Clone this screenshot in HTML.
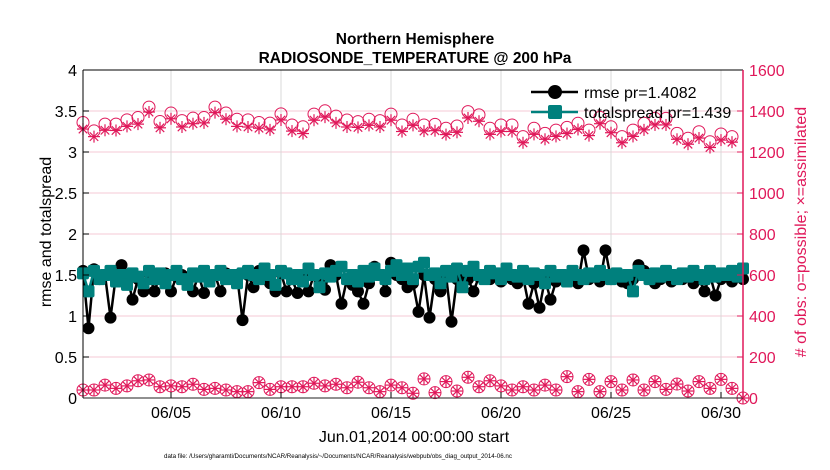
<!DOCTYPE html>
<html><head><meta charset="utf-8"><style>
body{margin:0;background:#fff;}
svg{display:block;font-family:"Liberation Sans",sans-serif;}
</style></head><body>
<svg id="chart" width="830" height="470" viewBox="0 0 830 470" xmlns="http://www.w3.org/2000/svg">
<rect width="830" height="470" fill="#fff"/>
<g id="grid"></g>
<g id="series"></g>
<g id="axes"></g>
<text x="415" y="44" text-anchor="middle" font-size="15.5" font-weight="bold">Northern Hemisphere</text>
<text x="415" y="63" text-anchor="middle" font-size="15.5" font-weight="bold">RADIOSONDE_TEMPERATURE @ 200 hPa</text>
<text transform="translate(51,232) rotate(-90)" text-anchor="middle" font-size="16">rmse and totalspread</text>
<text transform="translate(806,232) rotate(-90)" text-anchor="middle" font-size="16" fill="#e0185a"># of obs: o=possible; ×=assimilated</text>
<text x="414" y="442" text-anchor="middle" font-size="16">Jun.01,2014 00:00:00 start</text>
<text x="338" y="458" text-anchor="middle" font-size="6.2">data file: /Users/gharamti/Documents/NCAR/Reanalysis/~/Documents/NCAR/Reanalysis/webpub/obs_diag_output_2014-06.nc</text>
<g id="legend"></g>
</svg>
<script>
const leftTicks=[0,0.5,1,1.5,2,2.5,3,3.5,4];
const leftTickLabels=["0","0.5","1","1.5","2","2.5","3","3.5","4"];
const rightTicks=[0,200,400,600,800,1000,1200,1400,1600];
const dateTicks=[4,9,14,19,24,29];
const dateTickLabels=["06/05","06/10","06/15","06/20","06/25","06/30"];
const possibleUpper=[1344,1303,1336,1336,1357,1368,1419,1349,1390,1353,1365,1368,1419,1390,1360,1357,1344,1341,1386,1332,1323,1385,1401,1375,1356,1348,1360,1353,1385,1332,1360,1332,1335,1316,1327,1397,1381,1316,1332,1332,1275,1316,1291,1307,1320,1340,1307,1369,1323,1275,1307,1340,1364,1364,1291,1267,1299,1250,1288,1275];
const assimUpper=[1312,1275,1306,1305,1325,1336,1395,1318,1362,1322,1338,1342,1392,1360,1325,1322,1316,1308,1356,1302,1290,1355,1370,1342,1322,1320,1330,1322,1355,1300,1330,1302,1304,1285,1296,1366,1350,1286,1300,1300,1245,1286,1262,1276,1290,1310,1280,1338,1294,1245,1276,1308,1332,1332,1262,1238,1268,1222,1258,1248];
const possibleLower=[39,39,63,47,59,84,88,55,59,55,67,42,47,39,31,31,75,42,55,55,55,72,59,67,50,77,50,31,63,50,23,93,26,80,34,101,55,84,59,39,55,39,63,39,104,31,91,31,80,39,88,39,80,42,68,34,80,47,91,47,0];
const assimLower=[39,39,63,47,59,84,88,55,59,55,67,42,47,39,31,31,75,42,55,55,55,72,59,67,50,77,50,31,63,50,23,93,26,80,34,101,55,84,59,39,55,39,63,39,104,31,91,31,80,39,88,39,80,42,68,34,80,47,91,47,0];
const rmse=[1.55,0.85,1.57,1.45,1.5,0.98,1.5,1.62,1.5,1.2,1.45,1.3,1.52,1.3,1.5,1.52,1.3,1.48,1.5,1.45,1.3,1.5,1.28,1.48,1.5,1.3,1.52,1.45,1.5,0.95,1.5,1.35,1.55,1.5,1.4,1.3,1.52,1.3,1.45,1.28,1.5,1.3,1.5,1.4,1.32,1.62,1.5,1.15,1.45,1.38,1.3,1.15,1.4,1.6,1.5,1.3,1.65,1.5,1.45,1.35,1.4,1.05,1.5,0.98,1.45,1.3,1.5,0.93,1.45,1.5,1.45,1.3,1.48,1.5,1.45,1.5,1.42,1.5,1.45,1.4,1.48,1.15,1.4,1.1,1.45,1.2,1.42,1.5,1.45,1.48,1.4,1.8,1.45,1.5,1.42,1.8,1.45,1.48,1.42,1.4,1.45,1.62,1.55,1.48,1.4,1.45,1.5,1.42,1.48,1.45,1.5,1.4,1.45,1.3,1.5,1.25,1.45,1.5,1.42,1.48,1.45];
const spread=[1.52,1.3,1.55,1.45,1.5,1.55,1.42,1.5,1.38,1.52,1.48,1.4,1.55,1.45,1.52,1.4,1.5,1.55,1.45,1.38,1.52,1.48,1.55,1.42,1.5,1.55,1.45,1.5,1.4,1.52,1.55,1.5,1.45,1.58,1.5,1.38,1.55,1.52,1.45,1.5,1.42,1.58,1.5,1.35,1.52,1.48,1.55,1.6,1.45,1.5,1.42,1.55,1.48,1.58,1.5,1.45,1.55,1.62,1.5,1.58,1.45,1.6,1.65,1.5,1.52,1.4,1.55,1.48,1.58,1.35,1.55,1.6,1.5,1.45,1.55,1.52,1.45,1.58,1.5,1.48,1.55,1.45,1.52,1.5,1.4,1.55,1.48,1.5,1.42,1.55,1.5,1.45,1.52,1.48,1.55,1.5,1.45,1.52,1.48,1.5,1.3,1.55,1.5,1.45,1.52,1.48,1.55,1.5,1.45,1.52,1.48,1.55,1.5,1.45,1.55,1.48,1.52,1.5,1.55,1.48,1.58];

const NS="http://www.w3.org/2000/svg";
const X0=83,X1=743,Y0=70,Y1=398,PINK="#e0185a",TEAL="#00807d";
const xDay=d=>X0+(X1-X0)*d/30;
const yL=v=>Y1-(Y1-Y0)*v/4;
const yR=v=>Y1-(Y1-Y0)*v/1600;
function mk(tag,attrs,parent){const e=document.createElementNS(NS,tag);for(const k in attrs)e.setAttribute(k,attrs[k]);parent.appendChild(e);return e;}
const grid=document.getElementById('grid'),axes=document.getElementById('axes'),ser=document.getElementById('series');

leftTicks.forEach((t,i)=>{
  const y=yL(t);
  if(i>0&&i<leftTicks.length-1){const g=mk('line',{x1:X0,x2:X1,y1:y,y2:y,stroke:'#f4c8d6','stroke-width':1},grid);
  
  }
  const tl=mk('text',{x:X0-6,y:y+6,'text-anchor':'end','font-size':16},axes);tl.textContent=leftTickLabels[i];
  
  
  mk('line',{x1:X0,x2:X0+6,y1:y,y2:y,stroke:'#000'},axes);
});
rightTicks.forEach(t=>{
  const y=yR(t);
  mk('line',{x1:X1-6,x2:X1,y1:y,y2:y,stroke:PINK},axes);
  const tl=mk('text',{x:X1+6,y:y+6,'font-size':16,fill:PINK},axes);tl.textContent=String(t);
  
  
});
dateTicks.forEach((d,i)=>{
  const x=xDay(d);
  const g=mk('line',{x1:x,x2:x,y1:Y0,y2:Y1,stroke:'#d8d8d8'},grid);
  
  
  mk('line',{x1:x,x2:x,y1:Y1,y2:Y1-6,stroke:'#000'},axes);
  const tl=mk('text',{x:x,y:Y1+20,'text-anchor':'middle','font-size':16},axes);tl.textContent=dateTickLabels[i];
  
  
});
mk('line',{x1:X0,x2:X1,y1:Y0,y2:Y0,stroke:'#000'},axes);
mk('line',{x1:X0,x2:X1,y1:Y1,y2:Y1,stroke:'#222'},axes);
mk('line',{x1:X0,x2:X0,y1:Y0,y2:Y1,stroke:'#000'},axes);
mk('line',{x1:X1,x2:X1,y1:Y0,y2:Y1,stroke:PINK,'stroke-width':1.5},axes);

function star(g,x,y,r){
  for(let a=0;a<4;a++){const an=a*Math.PI/4;mk('line',{x1:x-r*Math.cos(an),y1:y-r*Math.sin(an),x2:x+r*Math.cos(an),y2:y+r*Math.sin(an),stroke:PINK,'stroke-width':1.2},g);}
}
function pinkSet(poss,assim,name){
  const g=mk('g',{},ser);
  
  
  poss.forEach((v,i)=>{mk('circle',{cx:xDay(i/2),cy:yR(v),r:6,fill:'none',stroke:PINK,'stroke-width':1},g);});
  assim.forEach((v,i)=>{star(g,xDay(i/2),yR(v),6);});
}
pinkSet(possibleUpper,assimUpper,'obs-count-upper');
pinkSet(possibleLower,assimLower,'obs-count-lower');

function lineSeries(vals,color,name,marker){
  const g=mk('g',{},ser);
  
  
  mk('polyline',{points:vals.map((v,i)=>xDay(i/4)+','+yL(v)).join(' '),fill:'none',stroke:color,'stroke-width':2.5},g);
  vals.forEach((v,i)=>{const x=xDay(i/4),y=yL(v);
    if(marker==='c')mk('circle',{cx:x,cy:y,r:6,fill:color},g);
    else mk('rect',{x:x-6,y:y-6,width:12,height:12,rx:2,fill:color},g);});
}
lineSeries(rmse,'#000','rmse-series','c');
lineSeries(spread,TEAL,'totalspread-series','s');

const lg=document.getElementById('legend');
mk('line',{x1:531,x2:578,y1:92,y2:92,stroke:'#000','stroke-width':2.5},lg);
mk('circle',{cx:555,cy:92,r:7,fill:'#000'},lg);
let t=mk('text',{x:584,y:98,'font-size':16},lg);t.textContent='rmse pr=1.4082';


mk('line',{x1:531,x2:578,y1:112,y2:112,stroke:TEAL,'stroke-width':2.5},lg);
mk('rect',{x:548,y:105,width:14,height:14,rx:2,fill:TEAL},lg);
t=mk('text',{x:584,y:118,'font-size':16},lg);t.textContent='totalspread pr=1.439';


</script>
</body></html>
